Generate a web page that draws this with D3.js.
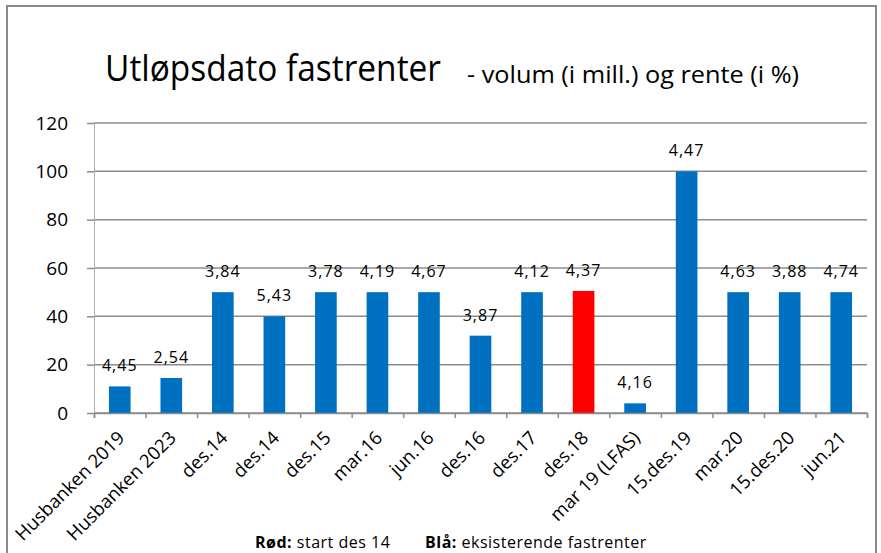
<!DOCTYPE html>
<html>
<head>
<meta charset="utf-8">
<script src="https://cdn.jsdelivr.net/npm/d3@7"></script>
<style>
  body { margin: 0; background: #fff; }
  text { font-family: "Open Sans", sans-serif; fill: #000; }
</style>
</head>
<body>
<div id="chart"></div>
<script>
// categories, volume (i mill.) and rente (i %)
var categories = ["Husbanken 2019", "Husbanken 2023", "des.14", "des.14", "des.15", "mar.16", "jun.16",
  "des.16", "des.17", "des.18", "mar 19 (LFAS)", "15.des.19", "mar.20", "15.des.20", "jun.21"];
var volumes = [11, 14.5, 50, 40, 50, 50, 50, 32, 50, 50.5, 4, 100, 50, 50, 50];
var rates = [4.45, 2.54, 3.84, 5.43, 3.78, 4.19, 4.67, 3.87, 4.12, 4.37, 4.16, 4.47, 4.63, 3.88, 4.74];
var redIndex = 9; // start des 14
var yTicks = [0, 20, 40, 60, 80, 100, 120];

var width = 881, height = 553;
var plotLeft = 94, plotRight = 867, plotTop = 123, plotBottom = 413;

var svg = d3.select("#chart").append("svg")
  .attr("width", width)
  .attr("height", height);

// outer border
svg.append("rect")
  .attr("x", 7).attr("y", 6)
  .attr("width", 869).attr("height", 570)
  .attr("fill", "none")
  .attr("stroke", "#8a8a8a")
  .attr("stroke-width", 2);

// title
svg.append("text")
  .attr("x", 105).attr("y", 81)
  .attr("font-size", 36)
  .attr("textLength", 336)
  .attr("lengthAdjust", "spacingAndGlyphs")
  .text("Utløpsdato fastrenter");

svg.append("text")
  .attr("x", 467).attr("y", 83)
  .attr("font-size", 24)
  .attr("textLength", 332)
  .attr("lengthAdjust", "spacingAndGlyphs")
  .text("- volum (i mill.) og rente (i %)");

var idx = d3.range(categories.length);

var x = d3.scaleBand()
  .domain(idx)
  .range([plotLeft, plotRight])
  .paddingInner(0.58)
  .paddingOuter(0.29);

var xEdge = d3.scaleLinear()
  .domain([0, categories.length])
  .range([plotLeft, plotRight]);

var y = d3.scaleLinear()
  .domain([0, 120])
  .range([plotBottom, plotTop]);

// gridlines
svg.append("g")
  .selectAll("line")
  .data(yTicks)
  .enter().append("line")
  .attr("x1", plotLeft).attr("x2", plotRight)
  .attr("y1", function(d) { return y(d); })
  .attr("y2", function(d) { return y(d); })
  .attr("stroke", "#8c8c8c")
  .attr("stroke-width", 1.5);

// y axis
var yAxis = svg.append("g")
  .attr("transform", "translate(" + plotLeft + ",0)")
  .call(d3.axisLeft(y).tickValues(yTicks).tickSize(7).tickPadding(19));
yAxis.selectAll("line").attr("stroke", "#8c8c8c").attr("stroke-width", 1.5);
yAxis.select(".domain").attr("stroke", "#b0b0b0");
yAxis.selectAll("text")
  .attr("font-size", 19)
  .style("font-family", "Open Sans");

// bars
svg.append("g")
  .selectAll("rect")
  .data(idx)
  .enter().append("rect")
  .attr("x", function(i) { return x(i); })
  .attr("y", function(i) { return y(volumes[i]); })
  .attr("width", x.bandwidth())
  .attr("height", function(i) { return y(0) - y(volumes[i]); })
  .attr("fill", function(i) { return i === redIndex ? "#ff0000" : "#0070c0"; });

// x axis with ticks between categories
var xAxis = svg.append("g")
  .attr("transform", "translate(0," + plotBottom + ")")
  .call(d3.axisBottom(xEdge).ticks(categories.length).tickSize(5).tickFormat(""));
xAxis.select(".domain").attr("stroke", "#8c8c8c").attr("stroke-width", 1.5);
xAxis.selectAll("line").attr("stroke", "#8c8c8c").attr("stroke-width", 1.5);

// rotated category labels
svg.append("g")
  .selectAll("text")
  .data(idx)
  .enter().append("text")
  .attr("text-anchor", "end")
  .attr("font-size", 18.5)
  .attr("transform", function(i) {
    return "translate(" + (x(i) + x.bandwidth() / 2 + 6) + "," + 439 + ") rotate(-45)";
  })
  .text(function(i) { return categories[i]; });

// value labels (rente)
svg.append("g")
  .selectAll("text")
  .data(idx)
  .enter().append("text")
  .attr("text-anchor", "middle")
  .attr("font-size", 16)
  .attr("letter-spacing", 1)
  .attr("x", function(i) { return x(i) + x.bandwidth() / 2; })
  .attr("y", function(i) { return y(volumes[i]) - 15; })
  .text(function(i) { return d3.format(".2f")(rates[i]).replace(".", ","); });

// legend note
var note = svg.append("text")
  .attr("x", 255).attr("y", 548)
  .attr("font-size", 16)
  .attr("letter-spacing", 0.5);
note.append("tspan").attr("font-weight", "bold").text("Rød:");
note.append("tspan").text(" start des 14");
note.append("tspan").attr("x", 425).attr("font-weight", "bold").text("Blå:");
note.append("tspan").text(" eksisterende fastrenter");
</script>
</body>
</html>
